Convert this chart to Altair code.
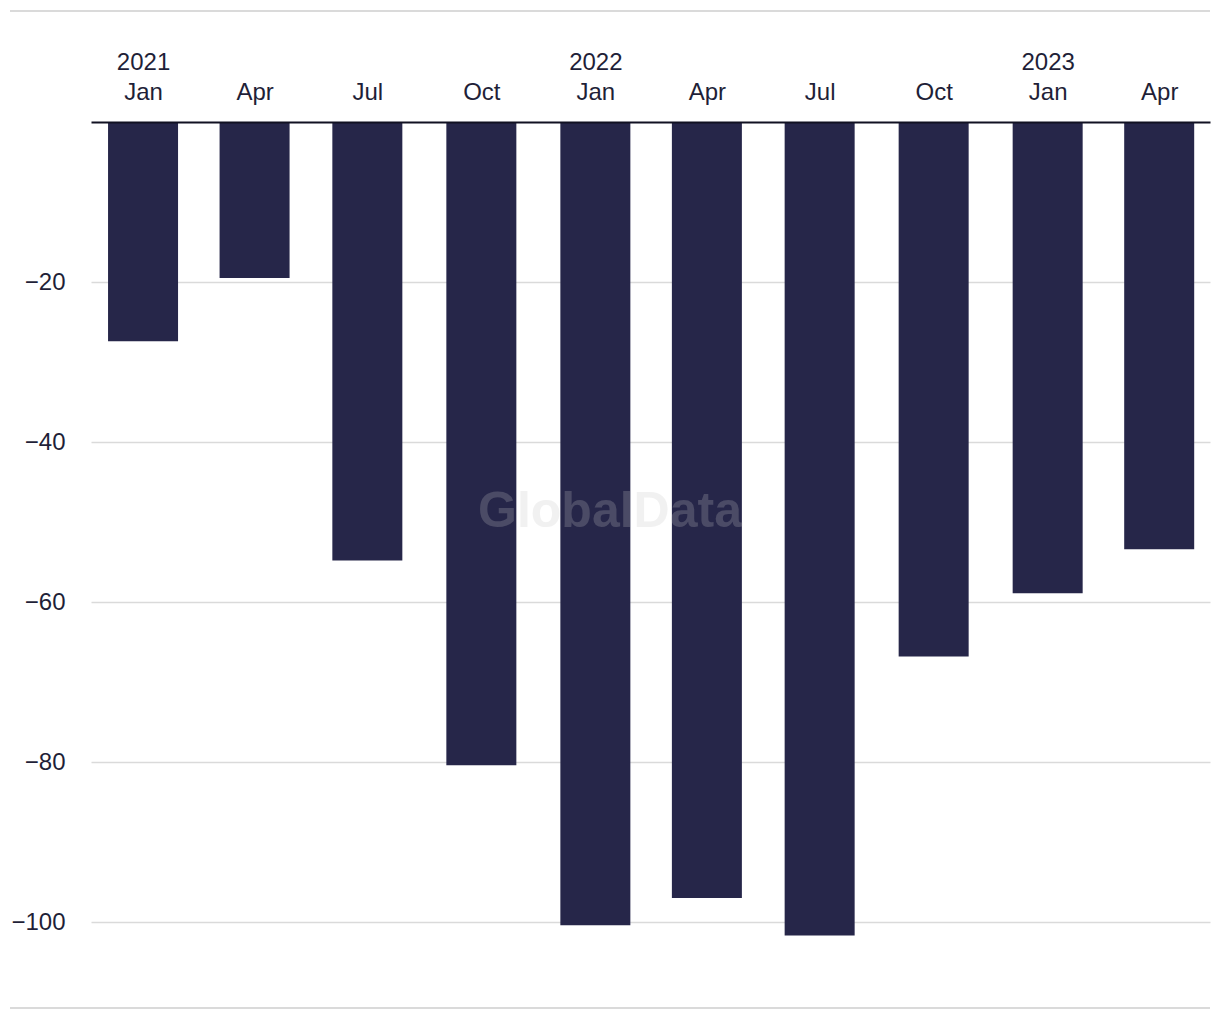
import altair as alt
import pandas as pd

quarters = ["2021-01-01", "2021-04-01", "2021-07-01", "2021-10-01", "2022-01-01",
            "2022-04-01", "2022-07-01", "2022-10-01", "2023-01-01", "2023-04-01"]
values = [-27.4, -19.5, -54.8, -80.4, -100.4, -97.0, -101.7, -66.8, -58.9, -53.4]
y_ticks = [-20, -40, -60, -80, -100]

df = pd.DataFrame({"date": quarters, "value": values})
tick_ms = [int(pd.Timestamp(q, tz="UTC").timestamp() * 1000) for q in quarters]

TEXT = "#1f1f38"
BAR = "#262649"
GRID = "#dadada"
FONT = "Liberation Sans"

W, H = 1119, 886

x_enc = alt.X(
    "date:T",
    scale=alt.Scale(type="utc", padding=0,
                    domain=[alt.DateTime(year=2020, month=11, date=20, utc=True),
                            alt.DateTime(year=2023, month=5, date=12, utc=True)]),
    axis=alt.Axis(
        orient="top", title=None, values=tick_ms, ticks=False, grid=False,
        domain=True, domainColor="#111122", domainWidth=2,
        labelFont=FONT, labelFontSize=24, labelColor=TEXT, labelPadding=48,
        labelLineHeight=30, labelBaseline="bottom", zindex=1,
        labelExpr="[utcmonth(datum.value) == 0 ? utcFormat(datum.value, '%Y') : '', utcFormat(datum.value, '%b')]",
    ),
)

y_enc = alt.Y(
    "value:Q",
    scale=alt.Scale(domain=[-110.75, 0], nice=False, zero=False),
    axis=alt.Axis(
        title=None, values=y_ticks, ticks=False, domain=False, grid=True,
        gridColor=GRID, gridWidth=1.5, labelFont=FONT, labelFontSize=24,
        labelColor=TEXT, labelPadding=26,
    ),
)

bars = alt.Chart(df).mark_bar(color=BAR, width=70).encode(x=x_enc, y=y_enc)

frame_df = pd.DataFrame({"a": [0]})
top_line = alt.Chart(frame_df).mark_rule(color=GRID, strokeWidth=2).encode(
    x=alt.value(-81), x2=alt.value(W), y=alt.value(-111))
bottom_line = alt.Chart(frame_df).mark_rule(color=GRID, strokeWidth=2).encode(
    x=alt.value(-81), x2=alt.value(W), y=alt.value(H))

watermark = alt.Chart(pd.DataFrame({"t": ["GlobalData"]})).mark_text(
    font=FONT, fontSize=50, fontWeight="bold", color="#c5c5c5", opacity=0.23,
    align="center", baseline="middle",
).encode(text="t:N", x=alt.value(519), y=alt.value(390))

chart = alt.layer(bars, top_line, bottom_line, watermark).properties(
    width=W, height=H,
    background="white",
    autosize=alt.AutoSizeParams(type="none"),
    padding={"left": 83, "top": 114, "right": 2, "bottom": 2},
).configure_view(strokeWidth=0, stroke="transparent")

chart.save("out.html", embed_options={"renderer": "svg", "actions": False})
